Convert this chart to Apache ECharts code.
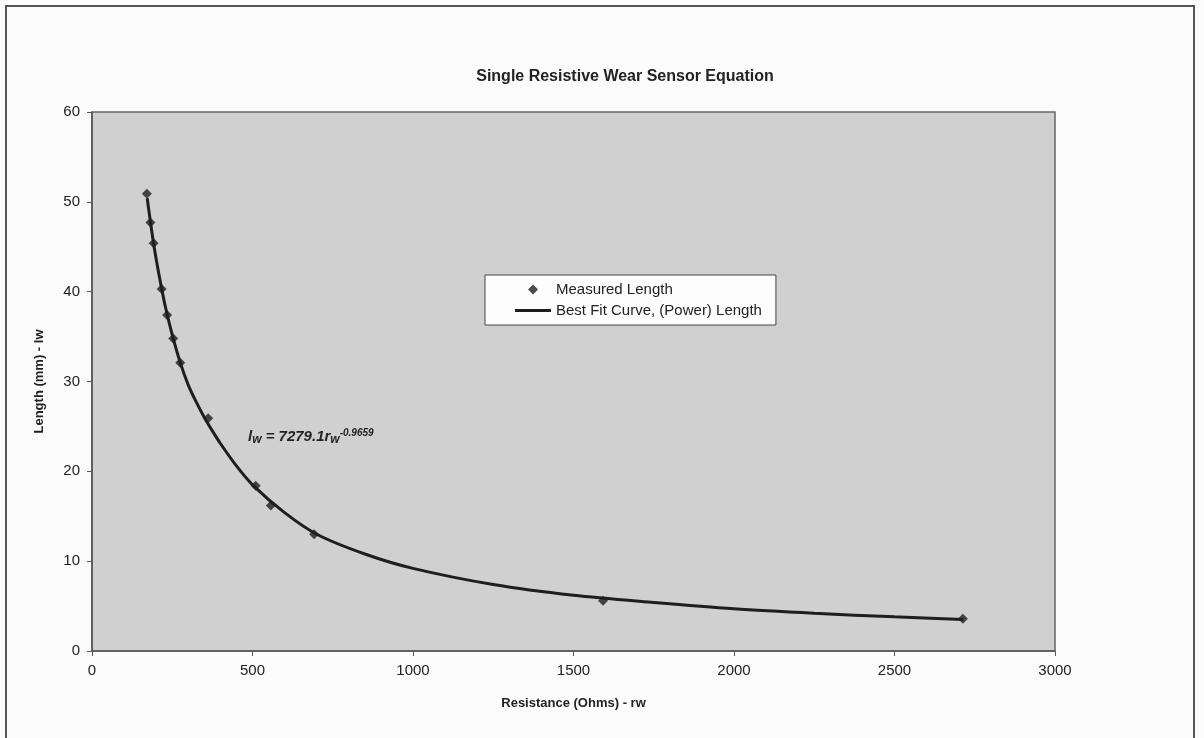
<!DOCTYPE html>
<html>
<head>
<meta charset="utf-8">
<script src="https://cdn.jsdelivr.net/npm/echarts@6/dist/echarts.min.js"></script>
<style>
html,body{margin:0;padding:0;background:#fbfbfb;}
#frame{position:absolute;left:5px;top:5px;width:1190px;height:740px;border:2px solid #555;box-sizing:border-box;}
#chart{width:1204px;height:738px;}
</style>
</head>
<body>
<div id="frame"></div>
<div id="chart"></div>
<script>
// Measured points (Resistance in Ohms, Length in mm)
const measuredR = [171, 182, 192, 217, 234, 253, 275, 362, 510, 557, 692, 1592, 2713];
const measuredL = [50.9, 47.7, 45.4, 40.3, 37.4, 34.8, 32.1, 25.9, 18.4, 16.2, 13.0, 5.6, 3.6];
// Best fit (power) curve
const fitR = [172, 180, 190, 200, 215, 230, 250, 275, 300, 325, 350, 375, 400, 450, 500, 600, 700, 850, 1000, 1250, 1500, 1750, 2000, 2250, 2500, 2713];
const fitL = [50.4, 48.3, 45.8, 43.6, 40.7, 38.1, 35.2, 32.1, 29.6, 27.7, 26.0, 24.5, 23.1, 20.6, 18.5, 15.4, 13.0, 10.8, 9.2, 7.4, 6.2, 5.4, 4.7, 4.2, 3.8, 3.5];
const xTicks = [0, 500, 1000, 1500, 2000, 2500, 3000];
const yTicks = [0, 10, 20, 30, 40, 50, 60];

const chart = echarts.init(document.getElementById('chart'), null, {renderer: 'canvas'});
const font = 'Liberation Sans, Arial, sans-serif';
chart.setOption({
  backgroundColor: 'transparent',
  animation: false,
  title: {
    text: 'Single Resistive Wear Sensor Equation',
    left: 620, top: 64, textAlign: 'center',
    textStyle: {fontFamily: font, fontSize: 16, fontWeight: 'bold', color: '#222'}
  },
  grid: {left: 92, right: 149, top: 112, bottom: 87, show: true, backgroundColor: '#d0d0d0', borderColor: '#666', borderWidth: 1.5},
  legend: {
    orient: 'vertical', left: 485, top: 275,
    backgroundColor: '#fdfdfd', borderColor: '#444', borderWidth: 1,
    padding: [7, 14, 7, 30], itemGap: 6, itemWidth: 36, itemHeight: 10,
    symbolKeepAspect: true,
    textStyle: {fontFamily: font, fontSize: 15, color: '#222'},
    data: [
      {name: 'Measured Length', icon: 'path://M5,0 L10,5 L5,10 L0,5 Z'},
      {name: 'Best Fit Curve, (Power) Length', icon: 'path://M0,0 L36,0 L36,3 L0,3 Z'}
    ]
  },
  xAxis: {
    type: 'value', min: xTicks[0], max: xTicks[xTicks.length - 1], interval: 500,
    name: 'Resistance (Ohms) - rw', nameLocation: 'middle', nameGap: 46,
    nameTextStyle: {fontFamily: font, fontSize: 13, fontWeight: 'bold', color: '#222'},
    axisLine: {show: true, lineStyle: {color: '#555', width: 1.5}},
    axisTick: {show: true, length: 5, lineStyle: {color: '#555'}},
    axisLabel: {fontFamily: font, fontSize: 15, color: '#222', margin: 12, formatter: v => String(v)},
    splitLine: {show: false}
  },
  yAxis: {
    type: 'value', min: yTicks[0], max: yTicks[yTicks.length - 1], interval: 10,
    name: 'Length (mm) - lw', nameLocation: 'middle', nameGap: 46,
    nameTextStyle: {fontFamily: font, fontSize: 13, fontWeight: 'bold', color: '#222'},
    axisLine: {show: true, lineStyle: {color: '#555', width: 1.5}},
    axisTick: {show: true, length: 5, lineStyle: {color: '#555'}},
    axisLabel: {fontFamily: font, fontSize: 15, color: '#222', margin: 12, formatter: v => String(v)},
    splitLine: {show: false}
  },
  graphic: [{
    type: 'text', left: 248, top: 428,
    style: {
      rich: {
        b: {fontFamily: font, fontSize: 15, fontStyle: 'italic', fontWeight: 'bold', fill: '#222'},
        s: {fontFamily: font, fontSize: 12, fontStyle: 'italic', fontWeight: 'bold', fill: '#222', padding: [6, 0, 0, 0]},
        p: {fontFamily: font, fontSize: 10, fontStyle: 'italic', fontWeight: 'bold', fill: '#222', padding: [0, 0, 8, 0]}
      },
      text: '{b|l}{s|w}{b| = 7279.1r}{s|w}{p|-0.9659}'
    }
  }],
  series: [
    {
      name: 'Best Fit Curve, (Power) Length', type: 'line', smooth: 0.3, showSymbol: false,
      lineStyle: {color: '#1e1e1e', width: 3}, itemStyle: {color: '#1e1e1e'},
      data: fitR.map((r, i) => [r, fitL[i]]), z: 2
    },
    {
      name: 'Measured Length', type: 'scatter', symbol: 'diamond', symbolSize: 10,
      itemStyle: {color: '#1e1e1e'},
      data: measuredR.map((r, i) => [r, measuredL[i]]), z: 3
    }
  ]
});
</script>
</body>
</html>
